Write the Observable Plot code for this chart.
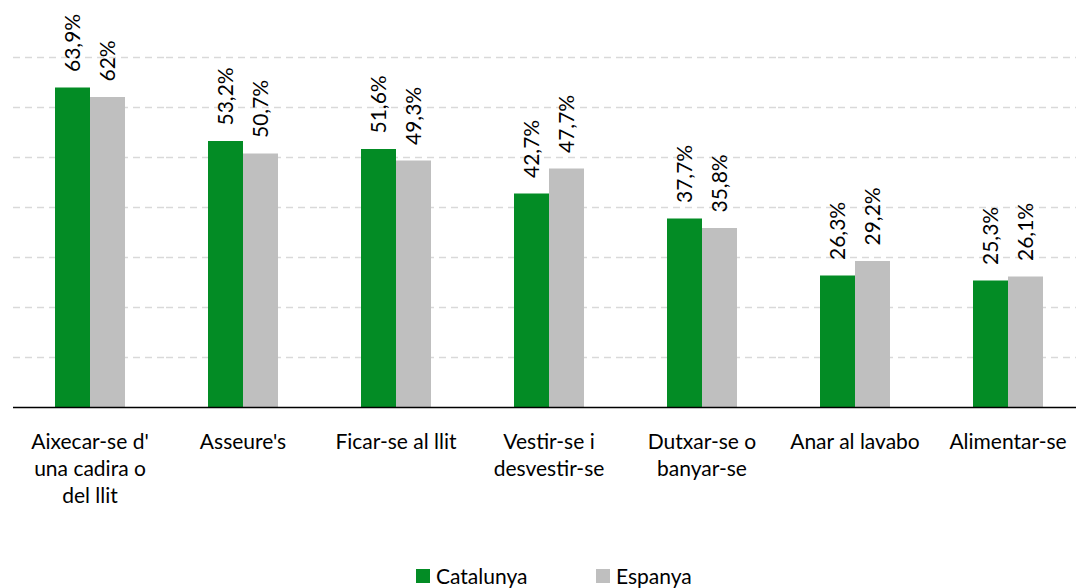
<!DOCTYPE html>
<html>
<head>
<meta charset="utf-8">
<script src="https://cdn.jsdelivr.net/npm/d3@7"></script>
<script src="https://cdn.jsdelivr.net/npm/@observablehq/plot@0.6"></script>
<style>
  html, body { margin: 0; padding: 0; background: #fff; overflow: hidden; width: 1076px; height: 588px; }
  #chart { width: 1076px; overflow: hidden; }
  #chart svg { display: block; max-width: none !important; }
  #legend { position: absolute; left: 0; top: 563px; width: 1076px; height: 26px; font-family: Lato, sans-serif; font-size: 21px; color: #000; }
  .item { position: absolute; top: 0; display: flex; align-items: center; height: 26px; line-height: 26px; }
  .sw { width: 14px; height: 14px; margin-right: 6px; }
</style>
</head>
<body>
<div id="chart"></div>
<div id="legend"></div>
<script>
const categories = ["Aixecar-se d'\nuna cadira o\ndel llit", "Asseure's", "Ficar-se al llit", "Vestir-se i\ndesvestir-se", "Dutxar-se o\nbanyar-se", "Anar al lavabo", "Alimentar-se"];
const series = ["Catalunya", "Espanya"];
const catalunya = [63.9, 53.2, 51.6, 42.7, 37.7, 26.3, 25.3];
const espanya = [62, 50.7, 49.3, 47.7, 35.8, 29.2, 26.1];
const gridValues = [10, 20, 30, 40, 50, 60, 70];
const colors = ["#038C25", "#BFBFBF"];

const rows = [];
categories.forEach((c, i) => {
  rows.push({category: c, series: "Catalunya", value: catalunya[i]});
  rows.push({category: c, series: "Espanya", value: espanya[i]});
});
const fmt = v => String(v).replace(".", ",") + "%";

const chart = Plot.plot({
  width: 1085,
  height: 562,
  marginLeft: 11,
  marginRight: 0,
  marginTop: 7,
  marginBottom: 155,
  style: {fontFamily: "Lato, sans-serif", color: "#000", background: "#fff", maxWidth: "none"},
  fx: {domain: categories, padding: 0, label: null},
  x: {domain: series, paddingInner: 0, paddingOuter: 1.13, axis: null},
  y: {domain: [0, 80], axis: null},
  color: {domain: series, range: colors},
  marks: [
    Plot.ruleY(gridValues, {stroke: "#D9D9D9", strokeWidth: 1.5, strokeDasharray: "7,5"}),
    Plot.barY(rows, {fx: "category", x: "series", y: "value", fill: "series"}),
    Plot.text(rows, {fx: "category", x: "series", y: "value", text: d => fmt(d.value), rotate: -90, textAnchor: "start", dy: -16, fontSize: 21, fill: "#000"}),
    Plot.ruleY([0], {stroke: "#000", strokeWidth: 1.5}),
    Plot.axisFx({anchor: "bottom", tickSize: 0, tickPadding: 22, fontSize: 21, lineHeight: 1.3, label: null, fill: "#000"})
  ]
});
document.getElementById("chart").appendChild(chart);

const legend = document.getElementById("legend");
const lx = [416, 596];
series.forEach((s, i) => {
  const it = document.createElement("div");
  it.className = "item";
  it.style.left = lx[i] + "px";
  const sw = document.createElement("span");
  sw.className = "sw";
  sw.style.background = colors[i];
  const t = document.createElement("span");
  t.textContent = s;
  it.appendChild(sw); it.appendChild(t);
  legend.appendChild(it);
});
</script>
</body>
</html>
